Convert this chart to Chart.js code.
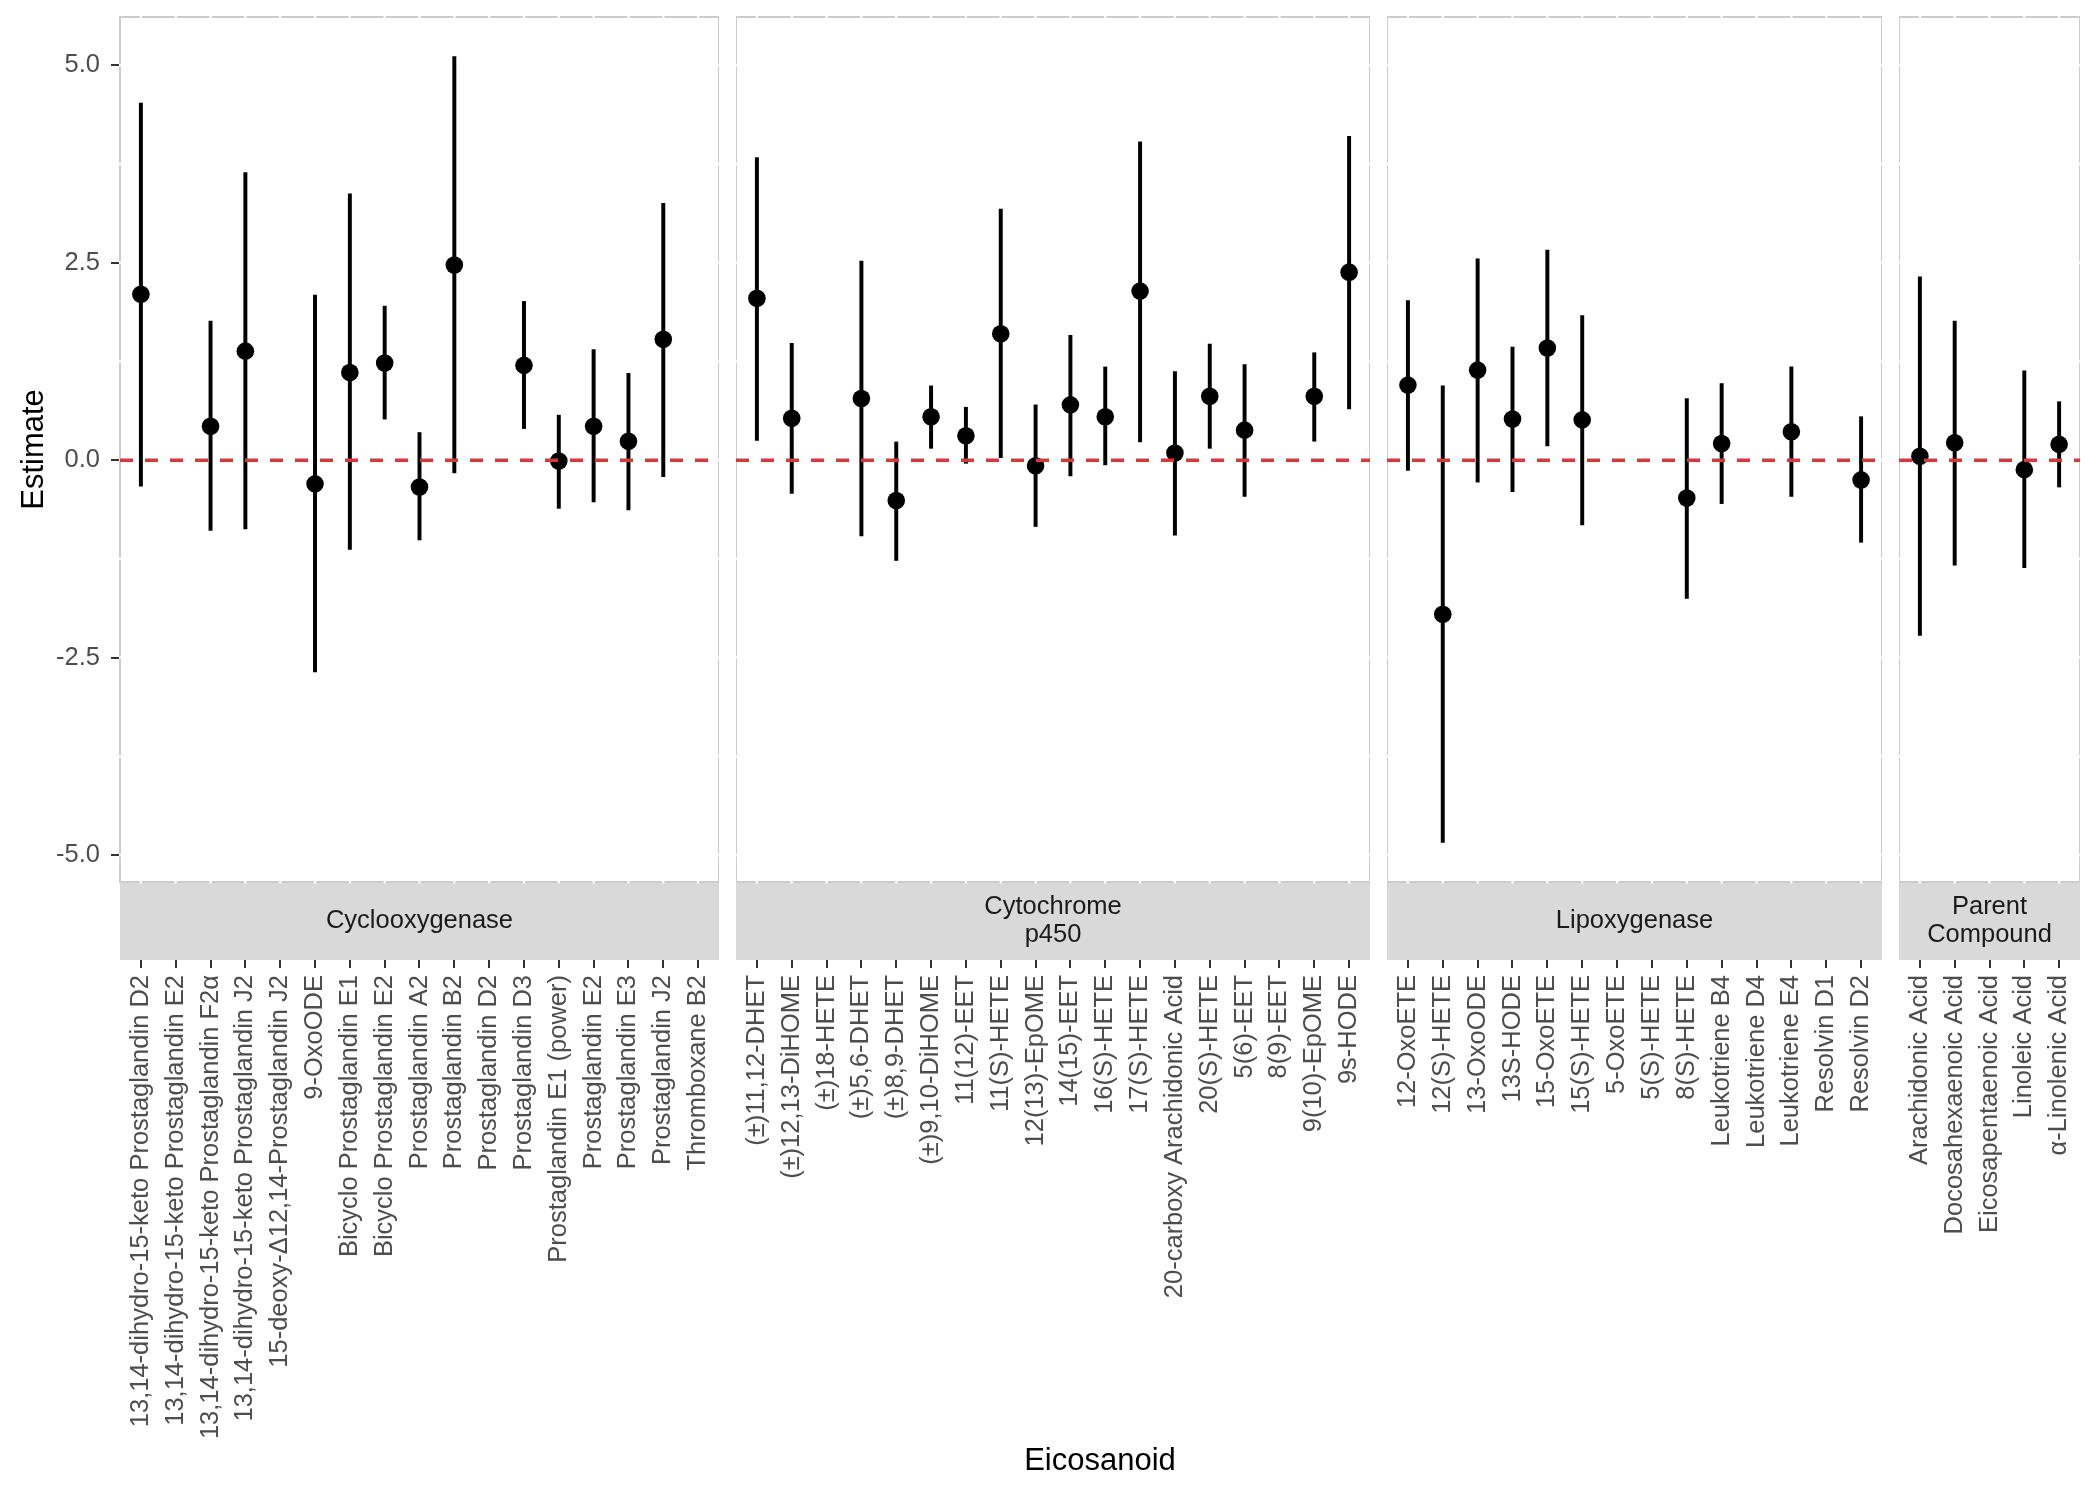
<!DOCTYPE html>
<html lang="en">
<head>
  <meta charset="UTF-8" />
  <title>Eicosanoid estimates</title>
  <script src="https://cdn.jsdelivr.net/npm/chart.js"></script>
  <style>
    body { margin: 0; background: white; font-family: 'Liberation Sans', Arial, sans-serif; }
    #wrap { position: relative; width: 2100px; height: 1485px; overflow: hidden; background: white; }
    #wrap canvas { position: absolute; top: 0; }
    #xtitle { position: absolute; left: 1100px; top: 1444px; transform: translateX(-50%); font-size: 31px; line-height: 1; color: #000; white-space: nowrap; }
  </style>
</head>
<body>
  <div id="wrap">
    <canvas id="p1" width="719" height="1485" style="left:0px"></canvas>
    <canvas id="p2" width="634" height="1485" style="left:736px"></canvas>
    <canvas id="p3" width="495" height="1485" style="left:1387px"></canvas>
    <canvas id="p4" width="181" height="1485" style="left:1899px"></canvas>
    <div id="xtitle">Eicosanoid</div>
  </div>

  <script>
    // y axis
    const yMin = -5.34, yMax = 5.61;
    const yTicks = [-5, -2.5, 0, 2.5, 5];
    const yMinor = [-3.75, -1.25, 1.25, 3.75];

    // Cyclooxygenase
    const cycloLabels = [
      '13,14-dihydro-15-keto Prostaglandin D2', '13,14-dihydro-15-keto Prostaglandin E2',
      '13,14-dihydro-15-keto Prostaglandin F2α', '13,14-dihydro-15-keto Prostaglandin J2',
      '15-deoxy-Δ12,14-Prostaglandin J2', '9-OxoODE', 'Bicyclo Prostaglandin E1', 'Bicyclo Prostaglandin E2',
      'Prostaglandin A2', 'Prostaglandin B2', 'Prostaglandin D2', 'Prostaglandin D3',
      'Prostaglandin E1 (power)', 'Prostaglandin E2', 'Prostaglandin E3', 'Prostaglandin J2', 'Thromboxane B2'
    ];
    const cycloEst  = [2.10, null, 0.43, 1.38, null, -0.30, 1.11, 1.23, -0.34, 2.47, null, 1.20, -0.01, 0.43, 0.24, 1.53, null];
    const cycloLow  = [-0.33, null, -0.89, -0.87, null, -2.68, -1.13, 0.52, -1.01, -0.16, null, 0.40, -0.61, -0.53, -0.63, -0.21, null];
    const cycloHigh = [4.52, null, 1.76, 3.64, null, 2.09, 3.37, 1.95, 0.35, 5.11, null, 2.01, 0.57, 1.40, 1.10, 3.25, null];

    // Cytochrome p450
    const cypLabels = [
      '(±)11,12-DHET', '(±)12,13-DiHOME', '(±)18-HETE', '(±)5,6-DHET', '(±)8,9-DHET', '(±)9,10-DiHOME',
      '11(12)-EET', '11(S)-HETE', '12(13)-EpOME', '14(15)-EET', '16(S)-HETE', '17(S)-HETE',
      '20-carboxy Arachidonic Acid', '20(S)-HETE', '5(6)-EET', '8(9)-EET', '9(10)-EpOME', '9s-HODE'
    ];
    const cypEst  = [2.05, 0.53, null, 0.78, -0.51, 0.55, 0.31, 1.60, -0.07, 0.70, 0.55, 2.14, 0.09, 0.81, 0.38, null, 0.81, 2.38];
    const cypLow  = [0.25, -0.42, null, -0.96, -1.27, 0.15, -0.04, 0.03, -0.84, -0.20, -0.06, 0.23, -0.95, 0.15, -0.46, null, 0.24, 0.65];
    const cypHigh = [3.83, 1.48, null, 2.52, 0.23, 0.94, 0.67, 3.18, 0.70, 1.58, 1.18, 4.03, 1.12, 1.47, 1.21, null, 1.36, 4.10];

    // Lipoxygenase
    const loxLabels = [
      '12-OxoETE', '12(S)-HETE', '13-OxoODE', '13S-HODE', '15-OxoETE', '15(S)-HETE', '5-OxoETE',
      '5(S)-HETE', '8(S)-HETE', 'Leukotriene B4', 'Leukotriene D4', 'Leukotriene E4', 'Resolvin D1', 'Resolvin D2'
    ];
    const loxEst  = [0.95, -1.95, 1.14, 0.52, 1.42, 0.51, null, null, -0.48, 0.21, null, 0.36, null, -0.25];
    const loxLow  = [-0.13, -4.84, -0.28, -0.40, 0.18, -0.82, null, null, -1.75, -0.55, null, -0.46, null, -1.04];
    const loxHigh = [2.02, 0.94, 2.55, 1.43, 2.66, 1.83, null, null, 0.78, 0.97, null, 1.18, null, 0.55];

    // Parent Compound
    const parentLabels = ['Arachidonic Acid', 'Docosahexaenoic Acid', 'Eicosapentaenoic Acid', 'Linoleic Acid', 'α-Linolenic Acid'];
    const parentEst  = [0.05, 0.22, null, -0.12, 0.20];
    const parentLow  = [-2.22, -1.33, null, -1.36, -0.34];
    const parentHigh = [2.32, 1.76, null, 1.13, 0.74];

    Chart.defaults.font.family = "'Liberation Sans', Arial, sans-serif";

    const PLOT_BOTTOM = 882;
    const STRIP_H = 78;

    // panel border, white grid, grey strip underneath
    const panelPlugin = {
      id: 'panel',
      beforeDatasetsDraw(chart, args, opts) {
        const { ctx, chartArea: a, scales: { x, y } } = chart;
        ctx.save();
        ctx.fillStyle = '#d9d9d9';
        ctx.fillRect(a.left, a.bottom, a.right - a.left, STRIP_H);
        ctx.fillStyle = '#1a1a1a';
        ctx.font = "25.5px 'Liberation Sans', Arial, sans-serif";
        ctx.textAlign = 'center';
        ctx.textBaseline = 'middle';
        const lines = opts.strip;
        const cy = a.bottom + STRIP_H / 2;
        lines.forEach((t, i) => {
          ctx.fillText(t, (a.left + a.right) / 2, cy + (i - (lines.length - 1) / 2) * 28);
        });

        ctx.strokeStyle = '#cccccc';
        ctx.lineWidth = 2;
        ctx.strokeRect(a.left, a.top, a.right - a.left, a.bottom - a.top);

        ctx.strokeStyle = '#ffffff';
        ctx.lineWidth = 2.2;
        for (let i = 0; i < opts.n; i++) {
          const px = x.getPixelForValue(i);
          ctx.beginPath(); ctx.moveTo(px, a.top - 2); ctx.lineTo(px, a.bottom + 1.5); ctx.stroke();
        }
        yTicks.concat(yMinor).forEach(v => {
          const py = y.getPixelForValue(v);
          ctx.beginPath(); ctx.moveTo(a.left - 1, py); ctx.lineTo(a.right + 2, py); ctx.stroke();
        });
        ctx.restore();
      }
    };

    function makePanel(id, labels, est, low, high, strip, showY) {
      const n = labels.length;
      const points = [], bars = [];
      est.forEach((v, i) => {
        if (v !== null) points.push({ x: i, y: v });
        if (low[i] !== null) bars.push({ x: i, y: [low[i], high[i]] });
      });

      new Chart(document.getElementById(id), {
        type: 'scatter',
        data: {
          datasets: [
            {
              type: 'line', data: [{ x: -0.6, y: 0 }, { x: n - 0.4, y: 0 }],
              borderColor: '#e0343d', borderWidth: 3.5, borderDash: [13, 12],
              pointRadius: 0, order: 0
            },
            {
              type: 'scatter', data: points, pointRadius: 8.8, pointHoverRadius: 8.8,
              backgroundColor: '#000', borderWidth: 0, order: 1
            },
            {
              type: 'bar', data: bars, backgroundColor: '#000', barThickness: 3.3,
              borderWidth: 0, order: 2
            }
          ]
        },
        options: {
          responsive: false,
          animation: false,
          layout: { autoPadding: false, padding: { top: 17, left: 0, right: 0, bottom: 0 } },
          plugins: { legend: { display: false }, tooltip: { enabled: false }, panel: { strip: strip, n: n } },
          scales: {
            x: {
              type: 'linear', min: -0.6, max: n - 0.4, offset: false,
              afterBuildTicks: s => { s.ticks = labels.map((_, i) => ({ value: i })); },
              afterFit: s => {
                s.height = 1485 - PLOT_BOTTOM;
                s.paddingLeft = s.paddingRight = s.paddingTop = s.paddingBottom = 0;
              },
              grid: { display: true, offset: false, drawOnChartArea: false, drawTicks: true, tickLength: 86, color: '#333333', lineWidth: 2 },
              border: { display: false },
              ticks: {
                autoSkip: false, minRotation: 90, maxRotation: 90, padding: 7,
                color: '#4d4d4d', font: { size: 25.5 },
                callback: v => labels[v]
              }
            },
            y: {
              display: showY, min: yMin, max: yMax,
              afterBuildTicks: s => { s.ticks = yTicks.map(v => ({ value: v })); },
              afterFit: s => {
                s.width = showY ? 120 : 0;
                s.paddingLeft = s.paddingRight = s.paddingTop = s.paddingBottom = 0;
              },
              grid: { display: true, drawOnChartArea: false, drawTicks: true, tickLength: 9, color: '#333333', lineWidth: 2 },
              border: { display: false },
              ticks: { padding: 11, color: '#4d4d4d', font: { size: 25.5 }, callback: v => v.toFixed(1) },
              title: { display: showY, text: 'Estimate', color: '#000', font: { size: 31 }, padding: { top: 16, bottom: 0 } }
            }
          }
        },
        plugins: [panelPlugin]
      });
    }

    makePanel('p1', cycloLabels, cycloEst, cycloLow, cycloHigh, ['Cyclooxygenase'], true);
    makePanel('p2', cypLabels, cypEst, cypLow, cypHigh, ['Cytochrome', 'p450'], false);
    makePanel('p3', loxLabels, loxEst, loxLow, loxHigh, ['Lipoxygenase'], false);
    makePanel('p4', parentLabels, parentEst, parentLow, parentHigh, ['Parent', 'Compound'], false);
  </script>
</body>
</html>
